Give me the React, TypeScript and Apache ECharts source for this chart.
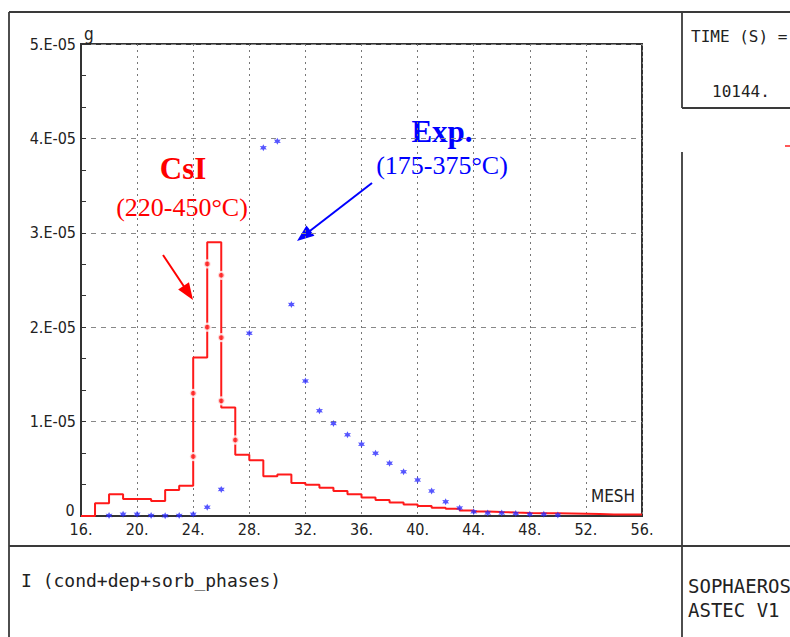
import React, { useEffect, useRef } from "react";
import * as echarts from "echarts";

// ---- data ----
const xTicks = [16, 20, 24, 28, 32, 36, 40, 44, 48, 52, 56];
const yTicks = [0, 1e-5, 2e-5, 3e-5, 4e-5, 5e-5];

// CsI calculated profile (step: value of mesh bin starting at x)
const csiBinStart = [16, 17, 18, 19, 20, 21, 22, 23, 24, 25, 26, 27, 28, 29, 30, 31, 32, 33, 34, 35, 36, 37, 38, 39, 40, 41, 42, 43, 44, 45, 46, 47, 48, 49, 50, 51, 52, 53, 54, 55];
const csiValue = [0, 1.35e-6, 2.3e-6, 1.8e-6, 1.8e-6, 1.6e-6, 2.75e-6, 3.2e-6, 1.68e-5, 2.9e-5, 1.15e-5, 6.5e-6, 5.9e-6, 4.2e-6, 4.4e-6, 3.5e-6, 3.3e-6, 3.0e-6, 2.65e-6, 2.3e-6, 1.95e-6, 1.7e-6, 1.42e-6, 1.22e-6, 1.07e-6, 0.88e-6, 0.76e-6, 0.57e-6, 0.48e-6, 0.42e-6, 0.37e-6, 0.33e-6, 0.3e-6, 0.28e-6, 0.26e-6, 0.24e-6, 0.22e-6, 0.16e-6, 0.16e-6, 0.16e-6];
const csiEnd = 56;

// markers drawn on the CsI curve
const csiMarkX = [24, 24, 25, 25, 26, 26, 26, 27];
const csiMarkY = [1.3e-5, 6.3e-6, 2.67e-5, 2.0e-5, 2.55e-5, 1.89e-5, 1.22e-5, 8.05e-6];

// experimental points
const expX = [18, 19, 20, 21, 22, 23, 24, 25, 26, 28, 29, 30, 31, 32, 33, 34, 35, 36, 37, 38, 39, 40, 41, 42, 43, 44, 45, 46, 47, 48, 49, 50];
const expY = [0.05e-6, 0.18e-6, 0.18e-6, 0.05e-6, 0.03e-6, 0.05e-6, 0.18e-6, 0.92e-6, 2.82e-6, 1.935e-5, 3.9e-5, 3.97e-5, 2.24e-5, 1.43e-5, 1.115e-5, 9.8e-6, 8.6e-6, 7.6e-6, 6.64e-6, 5.58e-6, 4.7e-6, 3.81e-6, 2.66e-6, 1.52e-6, 0.85e-6, 0.46e-6, 0.33e-6, 0.33e-6, 0.27e-6, 0.18e-6, 0.18e-6, 0.1e-6];

const LABEL_FONT = "'DejaVu Sans Condensed', 'DejaVu Sans', sans-serif";
const MONO = "'DejaVu Sans Mono', monospace";
const SERIF = "'Liberation Serif', 'Times New Roman', serif";
const FRAME = "#3a3a3a";

function arrow(x1: number, y1: number, x2: number, y2: number, color: string) {
  const dx = x2 - x1, dy = y2 - y1;
  const len = Math.sqrt(dx * dx + dy * dy);
  const ux = dx / len, uy = dy / len;
  const hl = 17, hw = 6.5;
  const bx = x2 - ux * hl, by = y2 - uy * hl;
  return [
    { type: "line", shape: { x1, y1, x2: bx + ux * 2, y2: by + uy * 2 }, style: { stroke: color, lineWidth: 2 } },
    {
      type: "polygon",
      shape: { points: [[x2, y2], [bx - uy * hw, by + ux * hw], [bx + uy * hw, by - ux * hw]] },
      style: { fill: color },
    },
  ];
}

function frameLine(x1: number, y1: number, x2: number, y2: number) {
  return { type: "line", shape: { x1, y1, x2, y2 }, style: { stroke: FRAME, lineWidth: 1.8 } };
}

function txt(text: string, x: number, y: number, font: string, fill: string, align = "left") {
  return { type: "text", x, y, style: { text, font, fill, align, verticalAlign: "middle" } };
}

export default function App() {
  const ref = useRef<HTMLDivElement>(null);
  useEffect(() => {
    if (!ref.current) return;
    const chart = echarts.init(ref.current, null, { renderer: "svg" });
    const stepData = csiBinStart.map((x, i) => [x, csiValue[i]]);
    stepData.push([csiEnd, csiValue[csiValue.length - 1]]);
    const star = "path://M0,-10L2.5,-4.3L8.7,-5L5,0L8.7,5L2.5,4.3L0,10L-2.5,4.3L-8.7,5L-5,0L-8.7,-5L-2.5,-4.3Z";
    chart.setOption({
      animation: false,
      backgroundColor: "#fff",
      grid: { left: 81, top: 44, right: 148, bottom: 121, show: true, borderColor: "#333", borderWidth: 2, containLabel: false },
      xAxis: {
        type: "value",
        min: xTicks[0],
        max: xTicks[xTicks.length - 1],
        interval: 4,
        axisLine: { lineStyle: { color: "#333", width: 2 } },
        axisTick: { show: false },
        axisLabel: { formatter: (v: number) => `${v}.`, color: "#222", fontSize: 16, fontFamily: LABEL_FONT, margin: 5 },
        splitLine: { show: true, lineStyle: { color: "#777", type: [2, 4], width: 1 } },
      },
      yAxis: {
        type: "value",
        min: yTicks[0],
        max: yTicks[yTicks.length - 1],
        interval: 1e-5,
        axisLine: { show: true, lineStyle: { color: "#333", width: 2 } },
        axisTick: { show: true, inside: true, length: 5, lineStyle: { color: "#333" } },
        minorTick: { show: true, splitNumber: 3, length: 5, lineStyle: { color: "#333" } },
        axisLabel: {
          showMinLabel: false,
          formatter: (v: number) => (v === 0 ? "0" : `${Math.round(v * 1e5)}.E-05`),
          color: "#222",
          fontSize: 16,
          fontFamily: LABEL_FONT,
          margin: 5,
        },
        splitLine: { show: true, lineStyle: { color: "#888", type: [5, 5], width: 1 } },
      },
      series: [
        {
          type: "line",
          step: "end",
          data: stepData,
          showSymbol: false,
          lineStyle: { color: "#ff1a1a", width: 2 },
          z: 3,
        },
        {
          type: "scatter",
          data: csiMarkX.map((x, i) => [x, csiMarkY[i]]),
          symbol: "circle",
          symbolSize: 7,
          itemStyle: { color: "#ff2a2a", borderColor: "#fff", borderWidth: 2.2 },
          z: 4,
        },
        {
          type: "scatter",
          data: expX.map((x, i) => [x, expY[i]]),
          symbol: star,
          symbolSize: 7,
          itemStyle: { color: "#2a2aff" },
          z: 5,
        },
      ],
      graphic: [
        frameLine(9, 12, 790, 12),
        frameLine(9, 12, 9, 637),
        frameLine(9, 546, 790, 546),
        frameLine(682, 12, 682, 108),
        frameLine(682, 152, 682, 637),
        frameLine(682, 108, 790, 108),
        { type: "line", shape: { x1: 785, y1: 146, x2: 790, y2: 146 }, style: { stroke: "#ff2020", lineWidth: 1.5 } },
        txt("0", 70, 510, `16px ${LABEL_FONT}`, "#222", "center"),
        txt("g", 84, 34, `17px ${LABEL_FONT}`, "#222"),
        txt("MESH", 591, 496, `17px ${LABEL_FONT}`, "#222"),
        txt("TIME (S) =", 691, 36, `16px ${MONO}`, "#222"),
        txt("10144.", 712, 91.5, `16px ${MONO}`, "#222"),
        txt("I (cond+dep+sorb_phases)", 21, 580, `18px ${MONO}`, "#222"),
        txt("SOPHAEROS", 688, 586, `19px ${MONO}`, "#222"),
        txt("ASTEC V1", 688, 609.5, `19px ${MONO}`, "#222"),
        txt("CsI", 183, 168, `bold 31px ${SERIF}`, "#ff0000", "center"),
        txt("(220-450°C)", 182, 207, `26px ${SERIF}`, "#ff0000", "center"),
        txt("Exp.", 442, 131, `bold 31px ${SERIF}`, "#0000ff", "center"),
        txt("(175-375°C)", 442, 165, `26px ${SERIF}`, "#0000ff", "center"),
        ...arrow(163, 255, 193, 300, "#ff0000"),
        ...arrow(372, 183, 297, 241, "#0000ff"),
      ],
    });
    return () => chart.dispose();
  }, []);
  return <div ref={ref} style={{ position: "fixed", left: 0, top: 0, width: 790, height: 637 }} />;
}
